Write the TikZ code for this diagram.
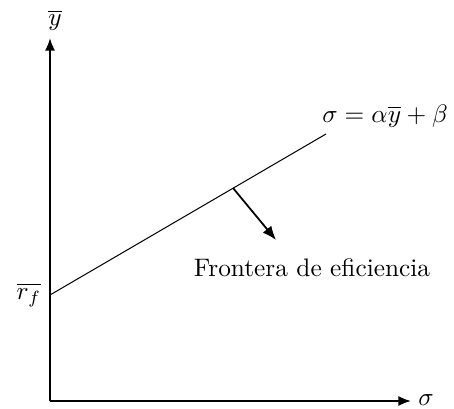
\documentclass[tikz,border=0pt]{standalone}
\usetikzlibrary{arrows.meta}
\begin{document}
\begin{tikzpicture}[x=0.395pt,y=-0.395pt,
  axis/.style={line width=0.8pt,-{Latex[length=5pt,width=4pt]}},
  frontier/.style={line width=0.4pt},
  normal/.style={line width=0.7pt,-{Latex[length=5.5pt,width=4.4pt]}},
  lbl/.style={inner sep=0pt}]
\useasboundingbox (0,0) rectangle (454,409);
\coordinate (O) at (50,401);
\coordinate (Ytop) at (50,38);
\coordinate (Xend) at (411,401);
\coordinate (A) at (50,295);
\coordinate (B) at (326,134);
\coordinate (P) at (233,188);
\coordinate (Q) at (276,240);
\draw[axis] (O) -- (Ytop);
\draw[axis] (O) -- (Xend);
\draw[frontier] (A) -- (B);
\draw[normal] (P) -- (Q);
\node[lbl] (ylab) at (55,20) {$\overline{y}$};
\node[lbl] (slab) at (426,400) {$\sigma$};
\node[lbl] (rf) at (29,295) {$\overline{r_f}$};
\node[lbl] (eq) at (385,116) {$\sigma=\alpha\overline{y}+\beta$};
\node[lbl] (fe) at (312,268) {Frontera de eficiencia};
\end{tikzpicture}
\end{document}
